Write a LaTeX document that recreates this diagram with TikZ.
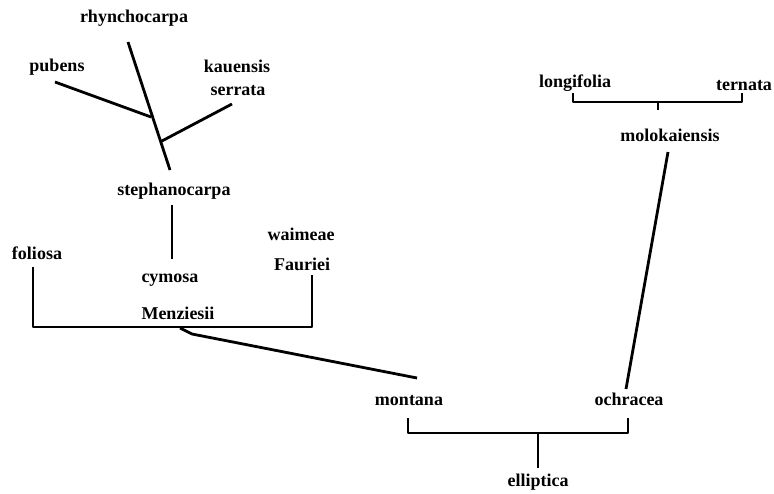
\documentclass[tikz,border=0pt]{standalone}
\usepackage{fontspec}
\setmainfont{Liberation Serif}
\begin{document}
\begin{tikzpicture}[x=1pt,y=-1pt,
  lbl/.style={font=\bfseries\fontsize{18}{21}\selectfont, inner sep=0pt, anchor=base},
  ln/.style={line width=2.8pt, line join=round}]
\useasboundingbox (0,0) rectangle (774,493);
% labels
\node[lbl] (rhy) at (134,22) {rhynchocarpa};
\node[lbl] (pub) at (57,71) {pubens};
\node[lbl] (kau) at (237,72) {kauensis};
\node[lbl] (ser) at (238,95) {serrata};
\node[lbl] (ste) at (174,195) {stephanocarpa};
\node[lbl] (fol) at (37,259) {foliosa};
\node[lbl] (cym) at (170,282) {cymosa};
\node[lbl] (wai) at (301,240) {waimeae};
\node[lbl] (fau) at (302,270) {Fauriei};
\node[lbl] (men) at (178,319) {Menziesii};
\node[lbl] (mon) at (409,405) {montana};
\node[lbl] (och) at (629,405) {ochracea};
\node[lbl] (ell) at (538,486) {elliptica};
\node[lbl] (lon) at (575,87) {longifolia};
\node[lbl] (ter) at (744,90) {ternata};
\node[lbl] (mol) at (670,141) {molokaiensis};
% connector points
\coordinate (rhT) at (128,42);
\coordinate (rhB) at (170,170);
\coordinate (pubE) at (55,82);
\coordinate (pubJ) at (151,117);
\coordinate (kauE) at (232,104);
\coordinate (kauJ) at (160,142);
\coordinate (steB) at (172,205);
\coordinate (cymT) at (172,259);
\coordinate (folB) at (33,267);
\coordinate (mL) at (33,327);
\coordinate (mR) at (312,327);
\coordinate (fauB) at (312,275);
\coordinate (menJ) at (180,328);
\coordinate (menK) at (192,334);
\coordinate (monT) at (417,378);
\coordinate (monB) at (408,418);
\coordinate (eL) at (408,433);
\coordinate (eR) at (628,433);
\coordinate (ochB) at (628,418);
\coordinate (eJ) at (538,433);
\coordinate (ellT) at (538,468);
\coordinate (ochT) at (626,389);
\coordinate (molB) at (668,152);
\coordinate (lonB) at (573,93);
\coordinate (lL) at (573,102);
\coordinate (lR) at (742,102);
\coordinate (terB) at (742,93);
\coordinate (lJ) at (658,102);
\coordinate (molT) at (658,110);
% connectors
\draw[ln] (rhT) -- (rhB);
\draw[ln] (pubE) -- (pubJ);
\draw[ln] (kauE) -- (kauJ);
\draw[ln] (steB) -- (cymT);
\draw[ln] (folB) -- (mL) -- (mR) -- (fauB);
\draw[ln] (menJ) -- (menK) -- (monT);
\draw[ln] (monB) -- (eL) -- (eR) -- (ochB);
\draw[ln] (eJ) -- (ellT);
\draw[ln] (ochT) -- (molB);
\draw[ln] (lonB) -- (lL) -- (lR) -- (terB);
\draw[ln] (lJ) -- (molT);
\end{tikzpicture}
\end{document}
